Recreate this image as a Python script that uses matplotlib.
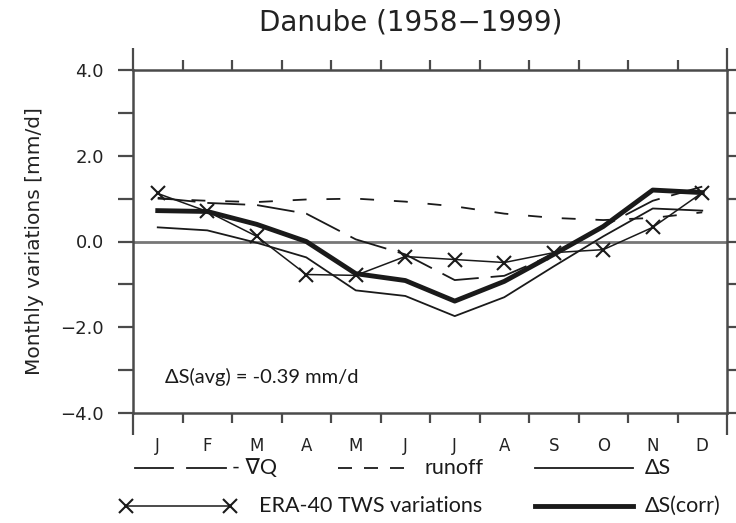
import numpy as np
import matplotlib
matplotlib.use("Agg")
import matplotlib.pyplot as plt
from matplotlib.lines import Line2D

# monthly values [mm/d]
months = ['J', 'F', 'M', 'A', 'M', 'J', 'J', 'A', 'S', 'O', 'N', 'D']
neg_div_q = [1.02, 0.90, 0.85, 0.65, 0.05, -0.30, -0.90, -0.80, -0.30, 0.35, 0.95, 1.28]
runoff = [1.00, 0.95, 0.92, 0.98, 1.00, 0.93, 0.82, 0.65, 0.55, 0.50, 0.55, 0.68]
delta_s = [0.33, 0.26, -0.03, -0.37, -1.14, -1.27, -1.74, -1.30, -0.58, 0.12, 0.77, 0.72]
era40_tws = [1.12, 0.70, 0.12, -0.77, -0.79, -0.35, -0.42, -0.49, -0.26, -0.19, 0.33, 1.14]
delta_s_corr = [0.72, 0.70, 0.40, 0.00, -0.75, -0.91, -1.39, -0.93, -0.30, 0.35, 1.20, 1.14]
avg_text = '\u0394S(avg) = -0.39 mm/d'

x = np.arange(len(months)) + 0.5
leg_font = ['Lato', 'DejaVu Sans']
ink = '#1a1a1a'
frame = '#4a4a4a'

fig = plt.figure(figsize=(7.36, 5.23), dpi=100)
ax = fig.add_axes([133 / 736, 1 - 413 / 523, 594 / 736, 343 / 523])

ax.axhline(0, color='#777777', lw=2.0, zorder=1)
ax.plot(x, neg_div_q, color=ink, lw=1.3, dashes=(21, 6.6), zorder=3)
ax.plot(x, runoff, color=ink, lw=1.3, dashes=(7.7, 11), zorder=3)
ax.plot(x, delta_s, color=ink, lw=1.3, zorder=3)
ax.plot(x, era40_tws, color=ink, lw=1.1, marker='x', ms=10, mew=1.5, zorder=4)
ax.plot(x, delta_s_corr, color=ink, lw=3.5, zorder=5)

ax.set_xlim(0, 12)
ax.set_ylim(-4, 4)
ax.set_xticks(np.arange(13))
ax.set_xticklabels([])
ax.set_xticks(x, months, minor=True)
ax.tick_params(axis='x', which='minor', length=0, pad=17, labelsize=12,
               labelcolor='#222222')
ax.tick_params(axis='x', which='major', direction='out', top=True, bottom=True,
               length=7, width=1.6, color=frame)
for i in (0, -1):
    t = ax.xaxis.get_major_ticks()[i]
    t.tick1line.set_markersize(16)
    t.tick2line.set_markersize(16)

ax.set_yticks([-4, -2, 0, 2, 4])
ax.set_yticklabels(['\u22124.0', '\u22122.0', '0.0', '2.0', '4.0'])
ax.set_yticks([-3, -1, 1, 3], minor=True)
ax.tick_params(axis='y', which='both', direction='out', left=True, right=True,
               length=11, width=1.6, color=frame, labelsize=13, pad=10,
               labelcolor='#222222')
for s in ax.spines.values():
    s.set_color(frame)
    s.set_linewidth(1.8)

ax.set_ylabel('Monthly variations [mm/d]', fontsize=14.5, labelpad=12,
              color='#222222')
ax.text(0.65, -3.15, avg_text, fontsize=14.5, family=leg_font, color=ink,
        va='center')

fig.text(411 / 736, 1 - 22 / 523, 'Danube (1958\u22121999)', fontsize=20,
         ha='center', va='center', color='#222222')

# legend drawn below the axes, two rows
lg = fig.add_axes([0, 0, 1, 1], zorder=-1)
lg.set_xlim(0, 736)
lg.set_ylim(523, 0)
lg.axis('off')
r1, r2 = 468, 506
lg.add_line(Line2D([135, 173], [r1, r1], color=ink, lw=1.3))
lg.add_line(Line2D([187, 226], [r1, r1], color=ink, lw=1.3))
lg.add_line(Line2D([338, 404], [r1, r1], color=ink, lw=1.3, dashes=(7.75, 6.65)))
lg.add_line(Line2D([535, 633], [r1, r1], color=ink, lw=1.3))
lg.add_line(Line2D([126, 230], [r2, r2], color=ink, lw=1.1, marker='x', ms=10,
                   mew=1.5, markevery=[0, 1]))
lg.add_line(Line2D([535, 633], [r2, r2], color=ink, lw=3.5))
lg.text(232, r1, '- \u2207Q', fontsize=15.5, family=leg_font, va='center', color=ink)
lg.text(424, r1, 'runoff', fontsize=15.5, family=leg_font, va='center', color=ink)
lg.text(645, r1, '\u0394S', fontsize=15.5, family=leg_font, va='center', color=ink)
lg.text(259, r2, 'ERA-40 TWS variations', fontsize=15.5, family=leg_font, va='center', color=ink)
lg.text(645, r2, '\u0394S(corr)', fontsize=15.5, family=leg_font, va='center', color=ink)

fig.savefig('out.png', dpi=100)
